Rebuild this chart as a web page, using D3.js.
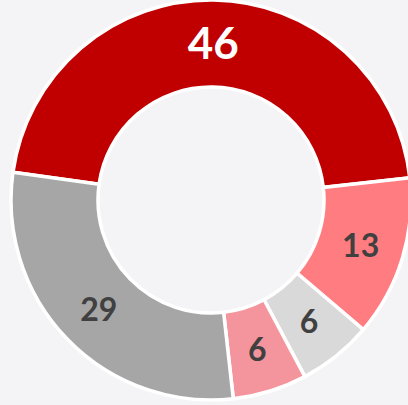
<html>
<head>
<script src="https://d3js.org/d3.v7.min.js"></script>
<style>
  body { margin: 0; background: #f4f4f6; }
</style>
</head>
<body>
<svg width="408" height="405"></svg>
<script>
var categories = ["A", "B", "C", "D", "E"];
var values = [46, 13, 6, 6, 29];
var colors = ["#c00000", "#ff7c80", "#d9d9d9", "#f4959d", "#a6a6a6"];
var labelColors = ["#ffffff", "#404040", "#404040", "#404040", "#404040"];

var svg = d3.select("svg");
var cx = 211, cy = 200, rOut = 200, rIn = 113;
var startDeg = -82;

var pie = d3.pie()
  .sort(null)
  .value(function(d) { return d; })
  .startAngle(startDeg * Math.PI / 180)
  .endAngle((startDeg + 360) * Math.PI / 180);

var arc = d3.arc().innerRadius(rIn).outerRadius(rOut);
var labelArc = d3.arc().innerRadius((rIn + rOut) / 2).outerRadius((rIn + rOut) / 2);

var g = svg.append("g").attr("transform", "translate(" + cx + "," + cy + ")");
var arcs = pie(values);

g.selectAll("path")
  .data(arcs)
  .enter()
  .append("path")
  .attr("d", arc)
  .style("fill", function(d, i) { return colors[i]; })
  .style("stroke", "#ffffff")
  .style("stroke-width", 3.5);

g.selectAll("text")
  .data(arcs)
  .enter()
  .append("text")
  .attr("transform", function(d) { return "translate(" + labelArc.centroid(d) + ")"; })
  .attr("text-anchor", "middle")
  .attr("dy", "0.36em")
  .style("font-family", "Lato, 'Open Sans', sans-serif")
  .style("font-weight", "bold")
  .style("font-size", function(d, i) { return i == 0 ? "44px" : "32px"; })
  .style("fill", function(d, i) { return labelColors[i]; })
  .text(function(d) { return d.data; });
</script>
</body>
</html>
